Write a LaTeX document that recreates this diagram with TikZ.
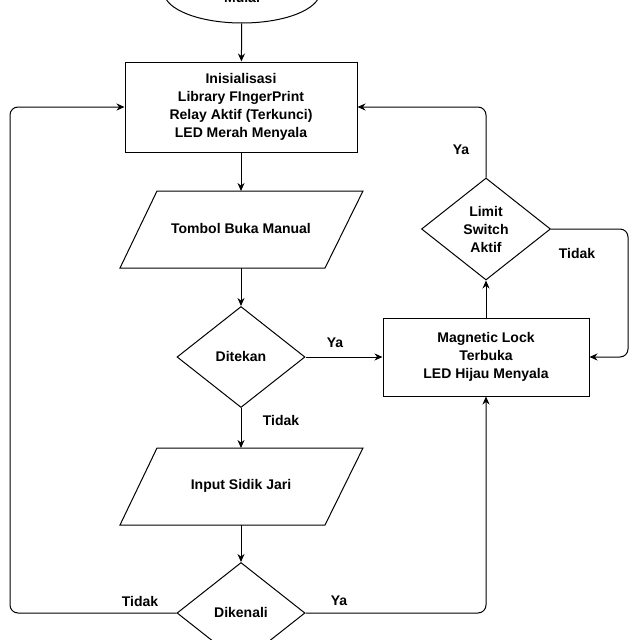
\documentclass[tikz,border=0pt]{standalone}
\usepackage{fontspec}
\setmainfont{Liberation Sans}
\usetikzlibrary{shapes.geometric,arrows.meta}
\begin{document}
\begin{tikzpicture}[x=1pt,y=-1pt,
  every node/.style={font=\bfseries\fontsize{14}{18}\selectfont,align=center},
  box/.style={draw,line width=1pt,inner sep=0},
  lab/.style={font=\bfseries\fontsize{14}{17}\selectfont},
  ar/.style={draw,line width=1pt,-{Stealth[length=8pt,width=7pt]},rounded corners=8pt}]
\useasboundingbox (0,0) rectangle (640,640);
\node[box,ellipse,minimum width=156,minimum height=62] (s) at (242,-8) {};
\node (st) at (242,-3) {Mulai};
\node[box,minimum width=232,minimum height=90] (i) at (241,107) {Inisialisasi\\Library FIngerPrint\\Relay Aktif (Terkunci)\\LED Merah Menyala};
\draw[line width=1pt] (157,191) -- (363,191) -- (325,268) -- (120,268) -- cycle;
\node (t) at (241,228) {Tombol Buka Manual};
\coordinate (tt) at (241,191); \coordinate (tb) at (241,268);
\node[box,diamond,minimum width=128,minimum height=101] (d) at (241,357) {};
\node (dt) at (241,356) {Ditekan};
\draw[line width=1pt] (157,448) -- (363,448) -- (325,525) -- (120,525) -- cycle;
\node (in) at (241,486) {Input Sidik Jari};
\coordinate (it) at (241,448); \coordinate (ib) at (241,525);
\node[box,diamond,minimum width=128,minimum height=101] (k) at (241,613) {};
\node (kt) at (241,612) {Dikenali};
\node[box,minimum width=206,minimum height=78] (m) at (486,357) {Magnetic Lock\\Terbuka\\LED Hijau Menyala};
\node[box,diamond,minimum width=129,minimum height=102] (l) at (486,229) {};
\node (lt) at (486,229) {Limit\\Switch\\Aktif};
\draw[ar] (s) -- (i);
\draw[ar] (i) -- (tt);
\draw[ar] (tb) -- (d);
\draw[ar] (d) -- (m);
\draw[ar] (d) -- (it);
\draw[ar] (ib) -- (k);
\draw[ar] (k.west) -- (10,613) -- (10,107) -- (i.west);
\draw[ar] (k.east) -- (486,613) -- (m.south);
\draw[ar] (m) -- (l);
\draw[ar] (l.north) -- (486,107) -- (i.east);
\draw[ar] (l.east) -- (628,229) -- (628,357) -- (m.east);
\node[lab] (y1) at (335,343) {Ya};
\node[lab] (n1) at (281,420) {Tidak};
\node[lab] (y2) at (461,150) {Ya};
\node[lab] (n2) at (577,253) {Tidak};
\node[lab] (n3) at (140,601) {Tidak};
\node[lab] (y3) at (339,601) {Ya};
\end{tikzpicture}
\end{document}
